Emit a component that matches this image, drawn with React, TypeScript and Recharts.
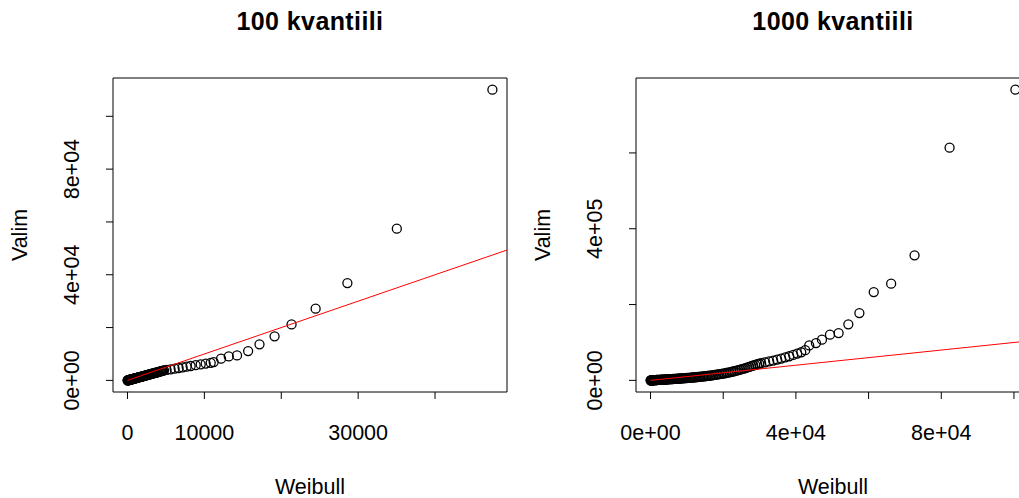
import React from 'react';
import { ScatterChart, Scatter, XAxis, YAxis, ReferenceArea } from 'recharts';

// 100 kvantiili: Weibull quantiles (x) against sample quantiles (y)
const weibull100 = [
  15, 35, 55, 80, 105, 130, 160, 190, 220, 250,
  285, 320, 355, 390, 425, 465, 505, 545, 585, 630,
  675, 720, 765, 810, 860, 910, 960, 1010, 1065, 1120,
  1175, 1230, 1290, 1350, 1410, 1470, 1535, 1600, 1665, 1730,
  1800, 1870, 1940, 2010, 2085, 2160, 2235, 2310, 2390, 2470,
  2550, 2635, 2720, 2805, 2890, 2980, 3070, 3160, 3255, 3350,
  3445, 3545, 3645, 3745, 3850, 3955, 4060, 4170, 4280, 4395,
  4510, 4630, 4750,
  5085, 5607, 6129, 6650, 7172, 7694, 8216, 8867, 9519, 10171, 10823,
  11210, 12170, 13170, 14250, 15690, 17170, 19130, 21340, 24470, 28600, 35030, 47460,
];
const valim100 = [
  8, 25, 42, 60, 80, 100, 122, 146, 170, 193,
  220, 247, 275, 302, 330, 361, 393, 424, 456, 491,
  527, 562, 598, 634, 673, 713, 752, 792, 836, 879,
  923, 967, 1014, 1062, 1110, 1157, 1209, 1261, 1313, 1364,
  1420, 1476, 1532, 1588, 1648, 1708, 1768, 1828, 1892, 1956,
  2020, 2088, 2156, 2224, 2292, 2364, 2436, 2508, 2584, 2660,
  2736, 2816, 2896, 2976, 3060, 3144, 3228, 3316, 3404, 3496,
  3588, 3684, 3780,
  3977, 4167, 4432, 4697, 4924, 5190, 5455, 5758, 6061, 6364, 6667,
  6930, 8220, 9090, 9470, 11100, 13640, 16670, 21210, 27160, 36860, 57460, 110100,
];

// 1000 kvantiili
const weibull1000 = [
  20, 70, 130, 200, 280, 360, 450, 540, 640, 740,
  850, 960, 1080, 1200, 1330, 1460, 1600, 1740, 1890, 2040,
  2200, 2360, 2530, 2700, 2880, 3060, 3250, 3440, 3640, 3840,
  4050, 4260, 4480, 4700, 4930,
  5160, 5400, 5640, 5890, 6140, 6400, 6660, 6930, 7200, 7480,
  7760, 8050, 8340, 8640, 8940, 9250, 9560, 9880, 10200, 10530,
  10860, 11200, 11540, 11890, 12240, 12600, 12960, 13330, 13700, 14080,
  14460, 14850,
  15240, 15640, 16040, 16450, 16860, 17280, 17700, 18130, 18560, 19000,
  19440, 19890, 20340, 20800, 21260, 21730, 22200, 22680, 23160, 23650,
  24140, 24640, 25140, 25650, 26160, 26680, 27200, 27730, 28260, 28800,
  29350, 29900,
  30430, 31540, 32640, 33740, 34850, 35950, 37060, 38160, 39260, 40370, 41470, 42570,
  43670, 45520, 47170, 49380, 51760, 54430, 57470, 61420, 66210, 72650, 82290, 100400,
];
const valim1000 = [
  12, 42, 78, 120, 168, 216, 270, 324, 384, 444,
  508, 572, 640, 710, 786, 862, 944, 1026, 1114, 1200,
  1290, 1382, 1480, 1578, 1682, 1768, 1880, 1990, 2104, 2220,
  2350, 2490, 2620, 2760, 2900,
  3040, 3190, 3340, 3500, 3670, 3840, 4010, 4190, 4370, 4560,
  4750, 4950, 5150, 5360, 5580, 5800, 6030, 6260, 6520, 6780,
  7040, 7330, 7620, 7930, 8240, 8560, 8900, 9250, 9620, 10000,
  10410, 10830,
  11260, 11720, 12200, 12720, 13260, 13830, 14420, 15050, 15710, 16400,
  17120, 17880, 18680, 19520, 20400, 21330, 22300, 23400, 24550, 25750,
  27000, 28300, 29650, 31050, 32500, 34050, 35700, 37450, 39250, 41000,
  42500, 43900,
  45390, 47500, 49880, 52250, 54890, 57530, 60430, 63600, 67030, 70730, 74160, 79700,
  92300, 98400, 107400, 120600, 124800, 147800, 177600, 233000, 255100, 329800, 614000, 767000,
];

const ticks100X = [0, 10000, 20000, 30000, 40000];
const labels100X = ['0', '10000', '', '30000', ''];
const ticks100Y = [0, 20000, 40000, 60000, 80000, 100000];
const labels100Y = ['0e+00', '', '4e+04', '', '8e+04', ''];

const ticks1000X = [0, 20000, 40000, 60000, 80000, 100000];
const labels1000X = ['0e+00', '', '4e+04', '', '8e+04', ''];
const ticks1000Y = [0, 200000, 400000, 600000];
const labels1000Y = ['0e+00', '', '4e+05', ''];

const FONT = '"Liberation Sans", Arial, sans-serif';
const FS = 21.5;
const W = 523;
const H = 498;

// R style axis range: data range stretched 4% each side
const pad = (vals: number[]): [number, number] => {
  const lo = Math.min(...vals);
  const hi = Math.max(...vals);
  const d = (hi - lo) * 0.04;
  return [lo - d, hi + d];
};

const Ring = (props: any) => (
  <circle cx={props.cx} cy={props.cy} r={4.5} fill="none" stroke="#000" strokeWidth={1.3} />
);
const NoDot = () => <g />;

const makeXTick = (ticks: number[], labels: string[]) => (props: any) => {
  const label = labels[ticks.indexOf(props.payload.value)];
  if (!label) return <g />;
  return (
    <text x={props.x} y={props.y + 32} textAnchor="middle" dominantBaseline="central"
      fontSize={FS} fontFamily={FONT} fill="#000">{label}</text>
  );
};

const makeYTick = (ticks: number[], labels: string[]) => (props: any) => {
  const label = labels[ticks.indexOf(props.payload.value)];
  if (!label) return <g />;
  const cx = props.x - 32;
  const cy = props.y;
  return (
    <text x={cx} y={cy} transform={`rotate(-90, ${cx}, ${cy})`} textAnchor="middle"
      dominantBaseline="central" fontSize={FS} fontFamily={FONT} fill="#000">{label}</text>
  );
};

interface PanelProps {
  title: string;
  xs: number[];
  ys: number[];
  xTicks: number[];
  xLabels: string[];
  yTicks: number[];
  yLabels: string[];
}

function QQPanel({ title, xs, ys, xTicks, xLabels, yTicks, yLabels }: PanelProps) {
  const data = xs.map((x, i) => ({ x, y: ys[i] }));
  const xDom = pad(xs);
  const yDom = pad(ys);
  // red y = x reference line, drawn over the points
  const identity = [{ x: 0, y: 0 }, { x: xDom[1], y: xDom[1] }];

  return (
    <div style={{ position: 'relative', width: W, height: H }}>
      <ScatterChart width={W} height={H} margin={{ top: 78, right: 16, bottom: 0, left: 0 }}>
        <XAxis
          type="number"
          dataKey="x"
          domain={xDom}
          ticks={xTicks}
          interval={0}
          allowDataOverflow
          axisLine={false}
          tickLine={{ stroke: '#000' }}
          tickSize={7}
          height={106}
          tick={makeXTick(xTicks, xLabels)}
          label={{
            content: (p: any) => (
              <text x={p.viewBox.x + p.viewBox.width / 2} y={p.viewBox.y + 95} textAnchor="middle"
                dominantBaseline="central" fontSize={FS} fontFamily={FONT} fill="#000">Weibull</text>
            ),
          }}
        />
        <YAxis
          type="number"
          dataKey="y"
          domain={yDom}
          ticks={yTicks}
          interval={0}
          allowDataOverflow
          axisLine={false}
          tickLine={{ stroke: '#000' }}
          tickSize={7}
          width={113}
          tick={makeYTick(yTicks, yLabels)}
          label={{
            content: (p: any) => {
              const cx = p.viewBox.x + p.viewBox.width - 93;
              const cy = p.viewBox.y + p.viewBox.height / 2;
              return (
                <text x={cx} y={cy} transform={`rotate(-90, ${cx}, ${cy})`} textAnchor="middle"
                  dominantBaseline="central" fontSize={FS} fontFamily={FONT} fill="#000">Valim</text>
              );
            },
          }}
        />
        <ReferenceArea x1={xDom[0]} x2={xDom[1]} y1={yDom[0]} y2={yDom[1]} fill="none" fillOpacity={0}
          stroke="#000" strokeWidth={1} />
        <Scatter data={data} shape={Ring} isAnimationActive={false} />
        <Scatter data={identity} shape={NoDot} line={{ stroke: '#ff0000', strokeWidth: 1 }}
          isAnimationActive={false} />
      </ScatterChart>
      <svg width={W} height={50} style={{ position: 'absolute', left: 0, top: 0 }}>
        <text x={310} y={21} textAnchor="middle" dominantBaseline="central" fontSize={25}
          letterSpacing={0.4} fontWeight="bold" fontFamily={FONT} fill="#000">{title}</text>
      </svg>
    </div>
  );
}

export default function App() {
  return (
    <div style={{ position: 'absolute', left: 0, top: 0, width: 1019, height: 498, overflow: 'hidden', background: '#fff' }}>
      <div style={{ position: 'absolute', left: 0, top: 0 }}>
        <QQPanel title="100 kvantiili" xs={weibull100} ys={valim100}
          xTicks={ticks100X} xLabels={labels100X} yTicks={ticks100Y} yLabels={labels100Y} />
      </div>
      <div style={{ position: 'absolute', left: 523, top: 0 }}>
        <QQPanel title="1000 kvantiili" xs={weibull1000} ys={valim1000}
          xTicks={ticks1000X} xLabels={labels1000X} yTicks={ticks1000Y} yLabels={labels1000Y} />
      </div>
    </div>
  );
}
